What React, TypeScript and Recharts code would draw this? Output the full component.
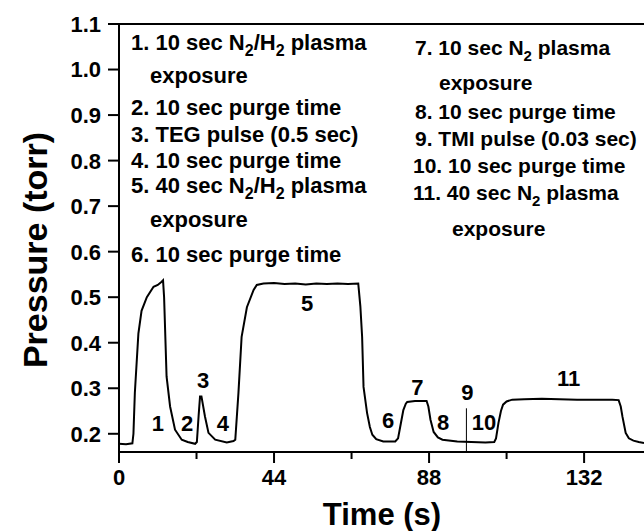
import { LineChart, Line, XAxis, YAxis, ReferenceDot, ReferenceLine } from "recharts";

// pressure trace
const timeS = [
  0, 2, 3.8, 4.1, 4.5, 5.5, 6.4, 7.9, 9.8, 11, 12.1, 12.5, 12.8, 13.5, 14.5, 15.9, 17.8, 19.5, 21.6,
  22.1, 22.6, 23.0, 23.4, 24.4, 25.4, 27.3, 30.6, 32.5, 33.0, 33.9, 34.8, 36.3, 38.2, 39.1, 41,
  44, 47, 50, 53, 56, 59, 62, 65, 67.9, 68.5, 69, 69.4, 70.4, 71.2, 71.9, 73, 75, 78.4, 79.2,
  79.8, 80.7, 81.4, 81.8, 84, 87.3, 87.8, 88.4, 89.3, 90.5, 91.8, 96, 100, 104, 106.5, 107,
  107.7, 108.4, 109, 110, 111.6, 115, 120, 125, 130, 135, 140, 141.8, 142.4, 142.9, 143.8,
  144.7, 146, 147.5, 149,
];
const pressureTorr = [
  0.178, 0.177, 0.179, 0.2, 0.29, 0.42, 0.47, 0.5, 0.523, 0.527, 0.534, 0.537, 0.5, 0.326, 0.26,
  0.209, 0.187, 0.182, 0.178, 0.182, 0.24, 0.282, 0.282, 0.238, 0.202, 0.187, 0.181, 0.184,
  0.187, 0.29, 0.413, 0.478, 0.516, 0.527, 0.53, 0.531, 0.529, 0.53, 0.528, 0.53, 0.529, 0.53,
  0.529, 0.53, 0.48, 0.413, 0.303, 0.246, 0.215, 0.198, 0.188, 0.183, 0.183, 0.19, 0.215, 0.252,
  0.266, 0.27, 0.272, 0.272, 0.26, 0.231, 0.204, 0.192, 0.187, 0.183, 0.182, 0.181, 0.182, 0.19,
  0.224, 0.25, 0.264, 0.271, 0.275, 0.276, 0.277, 0.276, 0.275, 0.275, 0.275, 0.274, 0.26,
  0.237, 0.202, 0.19, 0.185, 0.182, 0.18,
];

const xMajorTicks = [0, 44, 88, 132];
const xMinorTicks = [22, 66, 110];
const yMajorTicks = [0.2, 0.3, 0.4, 0.5, 0.6, 0.7, 0.8, 0.9, 1.0, 1.1];
const yMinorTicks = [0.25, 0.35, 0.45, 0.55, 0.65, 0.75, 0.85, 0.95, 1.05];

// step numbers placed along the trace
const stepLabels = ["1", "2", "3", "4", "5", "6", "7", "8", "9", "10", "11"];
const stepTimes = [11, 19.3, 23.9, 29.5, 53.4, 76.4, 84.7, 92, 98.9, 103.6, 127.6];
const stepPressures = [0.224, 0.224, 0.318, 0.224, 0.487, 0.23, 0.303, 0.226, 0.292, 0.226, 0.323];

// TMI pulse marker
const tmiPulseTime = 98.6;
const tmiPulseTop = 0.256;

const legendLeft = [
  "1. 10 sec N_2/H_2 plasma",
  "exposure",
  "2. 10 sec purge time",
  "3. TEG pulse (0.5 sec)",
  "4. 10 sec purge time",
  "5. 40 sec N_2/H_2 plasma",
  "exposure",
  "6. 10 sec purge time",
];
const legendRight = [
  "7. 10 sec N_2 plasma",
  "exposure",
  "8. 10 sec purge time",
  "9. TMI pulse (0.03 sec)",
  "10. 10 sec purge time",
  "11. 40 sec N_2 plasma",
  "exposure",
];

const FONT = "'Liberation Sans', Arial, Helvetica, sans-serif";

const data = timeS.map((t, i) => ({ t, p: pressureTorr[i] }));

function isMajorY(v: number) {
  return Math.round(v * 100) % 10 === 0;
}

function YTick(props: any) {
  const { x, y, payload } = props;
  const major = isMajorY(payload.value);
  return (
    <g>
      <line x1={x - (major ? 11 : 6)} x2={x} y1={y} y2={y} stroke="#000" strokeWidth={2} />
      {major && (
        <text x={x - 18} y={y} dy="0.36em" textAnchor="end" fontFamily={FONT} fontWeight={700} fontSize={22} fill="#000">
          {payload.value.toFixed(1)}
        </text>
      )}
    </g>
  );
}

function XTick(props: any) {
  const { x, y, payload } = props;
  const major = xMajorTicks.includes(payload.value);
  return (
    <g>
      <line x1={x} x2={x} y1={y} y2={y + (major ? 11 : 7)} stroke="#000" strokeWidth={2} />
      {major && (
        <text x={x} y={y + 33} textAnchor="middle" fontFamily={FONT} fontWeight={700} fontSize={22} fill="#000">
          {payload.value}
        </text>
      )}
    </g>
  );
}

function RichLine({ x, y, text, size }: { x: number; y: number; text: string; size: number }) {
  const parts = text.split(/_(\d)/);
  return (
    <text x={x} y={y} fontFamily={FONT} fontWeight={700} fontSize={size} fill="#000">
      {parts.map((s, i) =>
        i % 2 === 1 ? (
          <tspan key={i} dy={6} fontSize={size - 6}>{s}</tspan>
        ) : (
          <tspan key={i} dy={i === 0 ? 0 : -6}>{s}</tspan>
        )
      )}
    </text>
  );
}

const leftX = [131, 150, 131, 131, 131, 131, 150, 131];
const leftBaselines = [50, 83, 115, 142, 168, 193, 227, 262];
const rightX = [415, 439, 415, 415, 413, 413, 452];
const rightBaselines = [55, 90, 119, 146, 173, 200, 236];

export default function App() {
  return (
    <div style={{ position: "fixed", left: 0, top: 0, width: 644, height: 531, background: "#fff", fontFamily: FONT }}>
      <LineChart width={644} height={531} data={data} margin={{ top: 24, right: 0, bottom: 0, left: 0 }}>
        <XAxis
          dataKey="t"
          type="number"
          domain={[0, 149]}
          ticks={[...xMajorTicks, ...xMinorTicks].sort((a, b) => a - b)}
          tickSize={0}
          tickMargin={0}
          tickLine={false}
          tick={<XTick />}
          axisLine={{ stroke: "#000", strokeWidth: 2 }}
          height={79}
          allowDataOverflow
        />
        <YAxis
          type="number"
          domain={[0.16, 1.1]}
          ticks={[...yMajorTicks, ...yMinorTicks].sort((a, b) => a - b)}
          tickSize={0}
          tickMargin={0}
          tickLine={false}
          tick={<YTick />}
          axisLine={{ stroke: "#000", strokeWidth: 2 }}
          width={119}
          allowDataOverflow
        />
        <ReferenceLine y={1.1} stroke="#000" strokeWidth={2} />
        <ReferenceLine
          segment={[
            { x: tmiPulseTime, y: 0.16 },
            { x: tmiPulseTime, y: tmiPulseTop },
          ]}
          stroke="#000"
          strokeWidth={1}
        />
        <Line type="linear" dataKey="p" stroke="#000" strokeWidth={2} dot={false} isAnimationActive={false} />
        {stepLabels.map((s, i) => (
          <ReferenceDot
            key={s}
            x={stepTimes[i]}
            y={stepPressures[i]}
            r={0}
            stroke="none"
            fill="none"
            label={{ value: s, position: "center", fill: "#000", fontSize: 22, fontWeight: 700, fontFamily: FONT }}
          />
        ))}
      </LineChart>
      <svg width={644} height={531} style={{ position: "absolute", left: 0, top: 0, pointerEvents: "none" }}>
        {legendLeft.map((t, i) => (
          <RichLine key={"l" + i} x={leftX[i]} y={leftBaselines[i]} text={t} size={22} />
        ))}
        {legendRight.map((t, i) => (
          <RichLine key={"r" + i} x={rightX[i]} y={rightBaselines[i]} text={t} size={21} />
        ))}
        <text x={382} y={525} textAnchor="middle" fontFamily={FONT} fontWeight={700} fontSize={31} fill="#000">
          Time (s)
        </text>
        <text
          x={47}
          y={250}
          textAnchor="middle"
          transform="rotate(-90, 47, 250)"
          fontFamily={FONT}
          fontWeight={700}
          fontSize={34}
          fill="#000"
        >
          Pressure (torr)
        </text>
      </svg>
    </div>
  );
}
